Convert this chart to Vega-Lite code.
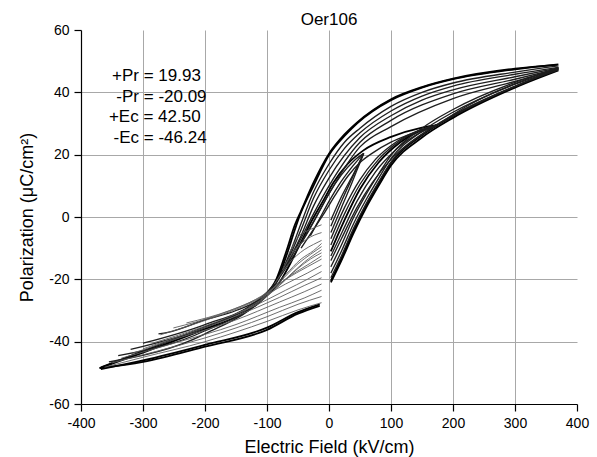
{
"$schema": "https://vega.github.io/schema/vega-lite/v6.json",
"autosize": "none",
"width": 496,
"height": 374,
"padding": {"left": 81, "top": 30, "right": 20, "bottom": 53},
"background": "white",
"config": {"view": {"stroke": null}, "font": "Liberation Sans"},
"title": {"text": "Oer106", "fontSize": 17, "fontWeight": "normal", "font": "Liberation Sans", "color": "black", "frame": "group", "offset": 5, "dy": 11},
"datasets": {
"curves": [
{"s":"MU1","k":"major","e":-370,"p":-48.5},{"s":"MU1","k":"major","e":-300,"p":-43.5},{"s":"MU1","k":"major","e":-200,"p":-36},{"s":"MU1","k":"major","e":-150,"p":-32},{"s":"MU1","k":"major","e":-110,"p":-27},{"s":"MU1","k":"major","e":-85,"p":-21},{"s":"MU1","k":"major","e":-68,"p":-12},{"s":"MU1","k":"major","e":-55,"p":-4},{"s":"MU1","k":"major","e":-48,"p":0},{"s":"MU1","k":"major","e":-25,"p":10},{"s":"MU1","k":"major","e":0,"p":19.9},{"s":"MU1","k":"major","e":25,"p":26},{"s":"MU1","k":"major","e":45,"p":30},{"s":"MU1","k":"major","e":100,"p":37.5},{"s":"MU1","k":"major","e":150,"p":41.5},{"s":"MU1","k":"major","e":200,"p":44.2},{"s":"MU1","k":"major","e":300,"p":47.4},{"s":"MU1","k":"major","e":370,"p":49},
{"s":"MU2","k":"major","e":-368,"p":-48.3},{"s":"MU2","k":"major","e":-300,"p":-43},{"s":"MU2","k":"major","e":-200,"p":-35.3},{"s":"MU2","k":"major","e":-150,"p":-31.3},{"s":"MU2","k":"major","e":-110,"p":-26.3},{"s":"MU2","k":"major","e":-85,"p":-20},{"s":"MU2","k":"major","e":-68,"p":-10.5},{"s":"MU2","k":"major","e":-55,"p":-2.5},{"s":"MU2","k":"major","e":-45,"p":2},{"s":"MU2","k":"major","e":-25,"p":11},{"s":"MU2","k":"major","e":0,"p":20.3},{"s":"MU2","k":"major","e":25,"p":26.5},{"s":"MU2","k":"major","e":45,"p":30.3},{"s":"MU2","k":"major","e":100,"p":37.8},{"s":"MU2","k":"major","e":150,"p":41.7},{"s":"MU2","k":"major","e":200,"p":44.4},{"s":"MU2","k":"major","e":300,"p":47.6},{"s":"MU2","k":"major","e":368,"p":48.8},
{"s":"MLL1","k":"major","e":-370,"p":-48.5},{"s":"MLL1","k":"major","e":-300,"p":-46.5},{"s":"MLL1","k":"major","e":-200,"p":-41.6},{"s":"MLL1","k":"major","e":-100,"p":-36.2},{"s":"MLL1","k":"major","e":-50,"p":-31},{"s":"MLL1","k":"major","e":-15,"p":-28.5},
{"s":"MLL2","k":"major","e":-368,"p":-48.8},{"s":"MLL2","k":"major","e":-300,"p":-46},{"s":"MLL2","k":"major","e":-200,"p":-41},{"s":"MLL2","k":"major","e":-100,"p":-35.5},{"s":"MLL2","k":"major","e":-50,"p":-30.5},{"s":"MLL2","k":"major","e":-15,"p":-28},
{"s":"MLR1","k":"major","e":3,"p":-21},{"s":"MLR1","k":"major","e":20,"p":-14},{"s":"MLR1","k":"major","e":40,"p":-5},{"s":"MLR1","k":"major","e":60,"p":3},{"s":"MLR1","k":"major","e":80,"p":10},{"s":"MLR1","k":"major","e":100,"p":16.5},{"s":"MLR1","k":"major","e":150,"p":25.5},{"s":"MLR1","k":"major","e":200,"p":31.8},{"s":"MLR1","k":"major","e":300,"p":41.5},{"s":"MLR1","k":"major","e":370,"p":47},
{"s":"MLR2","k":"major","e":3,"p":-20.5},{"s":"MLR2","k":"major","e":20,"p":-13.3},{"s":"MLR2","k":"major","e":40,"p":-4.2},{"s":"MLR2","k":"major","e":60,"p":3.8},{"s":"MLR2","k":"major","e":80,"p":10.8},{"s":"MLR2","k":"major","e":100,"p":17.3},{"s":"MLR2","k":"major","e":150,"p":26.2},{"s":"MLR2","k":"major","e":200,"p":32.4},{"s":"MLR2","k":"major","e":300,"p":41.8},{"s":"MLR2","k":"major","e":368,"p":47.2},
{"s":"UI1","k":"major","e":-110,"p":-26},{"s":"UI1","k":"major","e":-80,"p":-21},{"s":"UI1","k":"major","e":-60,"p":-14},{"s":"UI1","k":"major","e":-45,"p":-8},{"s":"UI1","k":"major","e":-30,"p":-2},{"s":"UI1","k":"major","e":-10,"p":5},{"s":"UI1","k":"major","e":7,"p":11},{"s":"UI1","k":"major","e":30,"p":17},{"s":"UI1","k":"major","e":55,"p":21.3},{"s":"UI1","k":"major","e":100,"p":25.7},{"s":"UI1","k":"major","e":150,"p":28.7},{"s":"UI1","k":"major","e":174,"p":29.5},
{"s":"LI2","k":"major","e":3,"p":-11},{"s":"LI2","k":"major","e":25,"p":-1},{"s":"LI2","k":"major","e":50,"p":9},{"s":"LI2","k":"major","e":80,"p":17.5},{"s":"LI2","k":"major","e":115,"p":24},{"s":"LI2","k":"major","e":174,"p":29.5},
{"s":"U1","k":"line","e":-275,"p":-37.5},{"s":"U1","k":"line","e":-260,"p":-37},{"s":"U1","k":"line","e":-200,"p":-33},{"s":"U1","k":"line","e":-150,"p":-30},{"s":"U1","k":"line","e":-110,"p":-26},{"s":"U1","k":"line","e":-80,"p":-19},{"s":"U1","k":"line","e":-60,"p":-10},{"s":"U1","k":"line","e":-45,"p":-2},{"s":"U1","k":"line","e":-25,"p":8},{"s":"U1","k":"line","e":0,"p":17},{"s":"U1","k":"line","e":25,"p":24},{"s":"U1","k":"line","e":50,"p":28.5},{"s":"U1","k":"line","e":100,"p":35.5},{"s":"U1","k":"line","e":150,"p":40},{"s":"U1","k":"line","e":200,"p":43},{"s":"U1","k":"line","e":300,"p":46.5},{"s":"U1","k":"line","e":370,"p":48.5},
{"s":"U2","k":"line","e":-300,"p":-40.5},{"s":"U2","k":"line","e":-200,"p":-34.5},{"s":"U2","k":"line","e":-120,"p":-27.5},{"s":"U2","k":"line","e":-85,"p":-21},{"s":"U2","k":"line","e":-62,"p":-12},{"s":"U2","k":"line","e":-45,"p":-4},{"s":"U2","k":"line","e":-25,"p":6},{"s":"U2","k":"line","e":0,"p":15},{"s":"U2","k":"line","e":25,"p":22},{"s":"U2","k":"line","e":50,"p":27},{"s":"U2","k":"line","e":100,"p":34},{"s":"U2","k":"line","e":150,"p":38.8},{"s":"U2","k":"line","e":200,"p":42},{"s":"U2","k":"line","e":300,"p":45.8},{"s":"U2","k":"line","e":370,"p":48},
{"s":"U3","k":"line","e":-320,"p":-42.5},{"s":"U3","k":"line","e":-200,"p":-35.5},{"s":"U3","k":"line","e":-130,"p":-29},{"s":"U3","k":"line","e":-90,"p":-22.5},{"s":"U3","k":"line","e":-65,"p":-14},{"s":"U3","k":"line","e":-45,"p":-6},{"s":"U3","k":"line","e":-25,"p":3.5},{"s":"U3","k":"line","e":0,"p":12.5},{"s":"U3","k":"line","e":50,"p":25.5},{"s":"U3","k":"line","e":100,"p":32.5},{"s":"U3","k":"line","e":150,"p":37.5},{"s":"U3","k":"line","e":200,"p":40.8},{"s":"U3","k":"line","e":300,"p":45},{"s":"U3","k":"line","e":370,"p":47.8},
{"s":"U4","k":"line","e":-340,"p":-44.5},{"s":"U4","k":"line","e":-200,"p":-36.5},{"s":"U4","k":"line","e":-95,"p":-23.5},{"s":"U4","k":"line","e":-70,"p":-16},{"s":"U4","k":"line","e":-48,"p":-8},{"s":"U4","k":"line","e":-25,"p":1},{"s":"U4","k":"line","e":0,"p":10},{"s":"U4","k":"line","e":50,"p":24},{"s":"U4","k":"line","e":100,"p":31},{"s":"U4","k":"line","e":200,"p":39.5},{"s":"U4","k":"line","e":300,"p":44.2},{"s":"U4","k":"line","e":370,"p":47.6},
{"s":"U5","k":"line","e":-355,"p":-46.5},{"s":"U5","k":"line","e":-200,"p":-37.5},{"s":"U5","k":"line","e":-100,"p":-24.5},{"s":"U5","k":"line","e":-75,"p":-18},{"s":"U5","k":"line","e":-50,"p":-10},{"s":"U5","k":"line","e":-25,"p":-1.5},{"s":"U5","k":"line","e":0,"p":7.5},{"s":"U5","k":"line","e":50,"p":22.5},{"s":"U5","k":"line","e":100,"p":29},{"s":"U5","k":"line","e":200,"p":38},{"s":"U5","k":"line","e":300,"p":43.5},{"s":"U5","k":"line","e":370,"p":47.4},
{"s":"UI2","k":"line","e":-45,"p":-10},{"s":"UI2","k":"line","e":-25,"p":-4},{"s":"UI2","k":"line","e":-10,"p":0.5},{"s":"UI2","k":"line","e":10,"p":7},{"s":"UI2","k":"line","e":30,"p":13},{"s":"UI2","k":"line","e":50,"p":17.5},{"s":"UI2","k":"line","e":70,"p":20.5},{"s":"UI2","k":"line","e":100,"p":24},{"s":"UI2","k":"line","e":130,"p":26.5},{"s":"UI2","k":"line","e":174,"p":29.5},
{"s":"US1","k":"line","e":-45,"p":-8.5},{"s":"US1","k":"line","e":-30,"p":-3.5},{"s":"US1","k":"line","e":-15,"p":2},{"s":"US1","k":"line","e":0,"p":7.5},{"s":"US1","k":"line","e":20,"p":13.5},{"s":"US1","k":"line","e":40,"p":18},{"s":"US1","k":"line","e":56,"p":20.4},
{"s":"US2","k":"line","e":-30,"p":-6},{"s":"US2","k":"line","e":-15,"p":-0.5},{"s":"US2","k":"line","e":0,"p":5},{"s":"US2","k":"line","e":15,"p":10},{"s":"US2","k":"line","e":35,"p":15.5},{"s":"US2","k":"line","e":56,"p":20.4},
{"s":"L1","k":"line","e":3,"p":-19.5},{"s":"L1","k":"line","e":20,"p":-12.5},{"s":"L1","k":"line","e":40,"p":-3.5},{"s":"L1","k":"line","e":60,"p":4.3},{"s":"L1","k":"line","e":80,"p":11.2},{"s":"L1","k":"line","e":100,"p":17.6},{"s":"L1","k":"line","e":150,"p":26.5},{"s":"L1","k":"line","e":200,"p":32.7},{"s":"L1","k":"line","e":300,"p":42},{"s":"L1","k":"line","e":370,"p":47.2},
{"s":"L2","k":"line","e":3,"p":-18},{"s":"L2","k":"line","e":20,"p":-11},{"s":"L2","k":"line","e":40,"p":-2},{"s":"L2","k":"line","e":60,"p":5.6},{"s":"L2","k":"line","e":80,"p":12.4},{"s":"L2","k":"line","e":100,"p":18.7},{"s":"L2","k":"line","e":150,"p":27.5},{"s":"L2","k":"line","e":200,"p":33.6},{"s":"L2","k":"line","e":300,"p":42.6},{"s":"L2","k":"line","e":370,"p":47.4},
{"s":"L3","k":"line","e":3,"p":-16},{"s":"L3","k":"line","e":20,"p":-9},{"s":"L3","k":"line","e":40,"p":0},{"s":"L3","k":"line","e":60,"p":7.3},{"s":"L3","k":"line","e":80,"p":13.8},{"s":"L3","k":"line","e":100,"p":19.8},{"s":"L3","k":"line","e":150,"p":28.5},{"s":"L3","k":"line","e":200,"p":34.5},{"s":"L3","k":"line","e":300,"p":43.2},{"s":"L3","k":"line","e":370,"p":47.6},
{"s":"L4","k":"line","e":174,"p":29.5},{"s":"L4","k":"line","e":220,"p":34.5},{"s":"L4","k":"line","e":270,"p":39.3},{"s":"L4","k":"line","e":320,"p":43.5},{"s":"L4","k":"line","e":370,"p":47.8},
{"s":"L5","k":"line","e":174,"p":29.5},{"s":"L5","k":"line","e":220,"p":35.3},{"s":"L5","k":"line","e":270,"p":40.3},{"s":"L5","k":"line","e":320,"p":44.3},{"s":"L5","k":"line","e":370,"p":48},
{"s":"LI1","k":"line","e":3,"p":-14},{"s":"LI1","k":"line","e":20,"p":-7},{"s":"LI1","k":"line","e":45,"p":3},{"s":"LI1","k":"line","e":70,"p":11},{"s":"LI1","k":"line","e":100,"p":18.5},{"s":"LI1","k":"line","e":130,"p":23.8},{"s":"LI1","k":"line","e":174,"p":29.5},
{"s":"LI3","k":"line","e":3,"p":-9},{"s":"LI3","k":"line","e":25,"p":1},{"s":"LI3","k":"line","e":50,"p":10.5},{"s":"LI3","k":"line","e":80,"p":18.5},{"s":"LI3","k":"line","e":115,"p":24.5},{"s":"LI3","k":"line","e":174,"p":29.5},
{"s":"LI4","k":"line","e":3,"p":-7},{"s":"LI4","k":"line","e":25,"p":3},{"s":"LI4","k":"line","e":50,"p":12},{"s":"LI4","k":"line","e":75,"p":18.5},{"s":"LI4","k":"line","e":110,"p":24.3},{"s":"LI4","k":"line","e":174,"p":29.5},
{"s":"LI5","k":"line","e":3,"p":-12.5},{"s":"LI5","k":"line","e":22,"p":-4.5},{"s":"LI5","k":"line","e":45,"p":5},{"s":"LI5","k":"line","e":75,"p":14.5},{"s":"LI5","k":"line","e":110,"p":22},{"s":"LI5","k":"line","e":174,"p":29.5},
{"s":"LS1","k":"line","e":3,"p":-5},{"s":"LS1","k":"line","e":20,"p":3},{"s":"LS1","k":"line","e":35,"p":10},{"s":"LS1","k":"line","e":45,"p":15},{"s":"LS1","k":"line","e":56,"p":20.4},
{"s":"LS2","k":"line","e":3,"p":-3},{"s":"LS2","k":"line","e":20,"p":5},{"s":"LS2","k":"line","e":35,"p":11.5},{"s":"LS2","k":"line","e":56,"p":20.4},
{"s":"LS3","k":"line","e":3,"p":-1},{"s":"LS3","k":"line","e":20,"p":6.5},{"s":"LS3","k":"line","e":40,"p":14},{"s":"LS3","k":"line","e":56,"p":20.4},
{"s":"LL1","k":"hatch","e":-362,"p":-48.2},{"s":"LL1","k":"hatch","e":-300,"p":-45},{"s":"LL1","k":"hatch","e":-200,"p":-40},{"s":"LL1","k":"hatch","e":-100,"p":-33.5},{"s":"LL1","k":"hatch","e":-50,"p":-29.8},{"s":"LL1","k":"hatch","e":-12,"p":-27.5},
{"s":"LL2","k":"hatch","e":-350,"p":-46.8},{"s":"LL2","k":"hatch","e":-280,"p":-43.2},{"s":"LL2","k":"hatch","e":-200,"p":-38.8},{"s":"LL2","k":"hatch","e":-100,"p":-32},{"s":"LL2","k":"hatch","e":-50,"p":-28},{"s":"LL2","k":"hatch","e":-12,"p":-25.5},
{"s":"LL3","k":"hatch","e":-335,"p":-45.3},{"s":"LL3","k":"hatch","e":-250,"p":-40.5},{"s":"LL3","k":"hatch","e":-150,"p":-34.5},{"s":"LL3","k":"hatch","e":-80,"p":-29},{"s":"LL3","k":"hatch","e":-40,"p":-26},{"s":"LL3","k":"hatch","e":-12,"p":-23.5},
{"s":"LL4","k":"hatch","e":-318,"p":-43.8},{"s":"LL4","k":"hatch","e":-250,"p":-39.3},{"s":"LL4","k":"hatch","e":-150,"p":-33},{"s":"LL4","k":"hatch","e":-80,"p":-27.3},{"s":"LL4","k":"hatch","e":-40,"p":-24},{"s":"LL4","k":"hatch","e":-12,"p":-21.5},
{"s":"LL5","k":"hatch","e":-300,"p":-42.3},{"s":"LL5","k":"hatch","e":-230,"p":-37.5},{"s":"LL5","k":"hatch","e":-150,"p":-31.8},{"s":"LL5","k":"hatch","e":-80,"p":-25.8},{"s":"LL5","k":"hatch","e":-40,"p":-22},{"s":"LL5","k":"hatch","e":-12,"p":-19.5},
{"s":"LL6","k":"hatch","e":-285,"p":-40.5},{"s":"LL6","k":"hatch","e":-200,"p":-35},{"s":"LL6","k":"hatch","e":-120,"p":-28.5},{"s":"LL6","k":"hatch","e":-70,"p":-23.5},{"s":"LL6","k":"hatch","e":-35,"p":-20},{"s":"LL6","k":"hatch","e":-12,"p":-17.5},
{"s":"LL7","k":"hatch","e":-272,"p":-37.8},{"s":"LL7","k":"hatch","e":-200,"p":-33.2},{"s":"LL7","k":"hatch","e":-120,"p":-27},{"s":"LL7","k":"hatch","e":-70,"p":-21.5},{"s":"LL7","k":"hatch","e":-35,"p":-18},{"s":"LL7","k":"hatch","e":-12,"p":-15.5},
{"s":"LL8","k":"hatch","e":-251,"p":-35.6},{"s":"LL8","k":"hatch","e":-180,"p":-31.5},{"s":"LL8","k":"hatch","e":-110,"p":-25.5},{"s":"LL8","k":"hatch","e":-70,"p":-20},{"s":"LL8","k":"hatch","e":-35,"p":-16},{"s":"LL8","k":"hatch","e":-12,"p":-13.5},
{"s":"LLa","k":"hatch","e":-230,"p":-34},{"s":"LLa","k":"hatch","e":-160,"p":-30},{"s":"LLa","k":"hatch","e":-100,"p":-24.5},{"s":"LLa","k":"hatch","e":-60,"p":-18.5},{"s":"LLa","k":"hatch","e":-30,"p":-14.8},{"s":"LLa","k":"hatch","e":-12,"p":-12.5},
{"s":"LL9","k":"hatch","e":-150,"p":-31},{"s":"LL9","k":"hatch","e":-110,"p":-27},{"s":"LL9","k":"hatch","e":-80,"p":-22},{"s":"LL9","k":"hatch","e":-50,"p":-16.5},{"s":"LL9","k":"hatch","e":-30,"p":-13.5},{"s":"LL9","k":"hatch","e":-12,"p":-11.5},
{"s":"LLb","k":"hatch","e":-130,"p":-29},{"s":"LLb","k":"hatch","e":-95,"p":-24.5},{"s":"LLb","k":"hatch","e":-65,"p":-19},{"s":"LLb","k":"hatch","e":-40,"p":-14.5},{"s":"LLb","k":"hatch","e":-12,"p":-10.5},
{"s":"LL10","k":"hatch","e":-110,"p":-26.5},{"s":"LL10","k":"hatch","e":-80,"p":-21},{"s":"LL10","k":"hatch","e":-50,"p":-15},{"s":"LL10","k":"hatch","e":-30,"p":-12},{"s":"LL10","k":"hatch","e":-12,"p":-9.5},
{"s":"LLc","k":"hatch","e":-100,"p":-25},{"s":"LLc","k":"hatch","e":-70,"p":-18.5},{"s":"LLc","k":"hatch","e":-45,"p":-13.5},{"s":"LLc","k":"hatch","e":-25,"p":-10.8},{"s":"LLc","k":"hatch","e":-12,"p":-8.5},
{"s":"LL11","k":"hatch","e":-88,"p":-21.5},{"s":"LL11","k":"hatch","e":-65,"p":-15},{"s":"LL11","k":"hatch","e":-40,"p":-10.5},{"s":"LL11","k":"hatch","e":-25,"p":-8.8},{"s":"LL11","k":"hatch","e":-12,"p":-7.5},
{"s":"LL12","k":"hatch","e":-75,"p":-17},{"s":"LL12","k":"hatch","e":-55,"p":-10.5},{"s":"LL12","k":"hatch","e":-35,"p":-7},{"s":"LL12","k":"hatch","e":-12,"p":-5},
{"s":"LL13","k":"hatch","e":-65,"p":-12},{"s":"LL13","k":"hatch","e":-50,"p":-6.5},{"s":"LL13","k":"hatch","e":-30,"p":-4},{"s":"LL13","k":"hatch","e":-12,"p":-2.5}
],
"notes": [
{"label":"+Pr = 19.93","e":-350,"p":43.6},
{"label":"-Pr = -20.09","e":-343,"p":37},
{"label":"+Ec = 42.50","e":-355,"p":30.5},
{"label":"-Ec = -46.24","e":-347.5,"p":23.8}
]
},
"layer": [
{
"data": {"name": "curves"},
"mark": {"type": "line", "interpolate": "monotone", "clip": true},
"encoding": {
"x": {"field": "e", "type": "quantitative",
 "scale": {"domain": [-400, 400], "nice": false, "zero": false},
 "axis": {
  "title": "Electric Field (kV/cm)", "titleFontSize": 18, "titleFontWeight": "normal", "titleColor": "black", "titleFont": "Liberation Sans", "titlePadding": 8,
  "values": [-400,-350,-300,-250,-200,-150,-100,-50,0,50,100,150,200,250,300,350,400],
  "labelExpr": "datum.value % 100 === 0 ? '' + datum.value : ''",
  "labelFontSize": 14, "labelColor": "black", "labelFont": "Liberation Sans", "labelPadding": 5, "labelFlush": false, "labelOverlap": false,
  "domainColor": "black", "domainWidth": 1.2,
  "tickColor": "black", "tickWidth": 1.2,
  "tickSize": {"condition": {"test": "datum.value % 100 === 0", "value": 7}, "value": 4},
  "grid": true,
  "gridColor": {"condition": {"test": "datum.value % 100 === 0", "value": "#a8a8a8"}, "value": "#e6e6e6"},
  "gridOpacity": {"condition": {"test": "abs(datum.value) === 400", "value": 0}, "value": 1},
  "gridWidth": 1
 }},
"y": {"field": "p", "type": "quantitative",
 "scale": {"domain": [-60, 60], "nice": false, "zero": false},
 "axis": {
  "title": "Polarization (μC/cm²)", "titleFontSize": 18, "titleFontWeight": "normal", "titleColor": "black", "titleFont": "Liberation Sans", "titlePadding": 12,
  "values": [-60,-55,-50,-45,-40,-35,-30,-25,-20,-15,-10,-5,0,5,10,15,20,25,30,35,40,45,50,55,60],
  "labelExpr": "datum.value % 10 === 0 ? '' + datum.value : ''",
  "labelFontSize": 14, "labelColor": "black", "labelFont": "Liberation Sans", "labelPadding": 5, "labelFlush": false, "labelOverlap": false,
  "domainColor": "black", "domainWidth": 1.2,
  "tickColor": "black", "tickWidth": 1.2,
  "tickSize": {"condition": {"test": "datum.value % 10 === 0", "value": 7}, "value": 4},
  "grid": true,
  "gridColor": {"condition": {"test": "datum.value % 10 === 0", "value": "#a8a8a8"}, "value": "#e6e6e6"},
  "gridOpacity": {"condition": {"test": "abs(datum.value) === 60", "value": 0}, "value": 1},
  "gridWidth": 1
 }},
"detail": {"field": "s", "type": "nominal"},
"color": {"field": "k", "type": "nominal", "legend": null,
 "scale": {"domain": ["major", "line", "hatch"], "range": ["#000000", "#1e1e1e", "#5e5e5e"]}},
"strokeWidth": {"field": "k", "type": "nominal", "legend": null,
 "scale": {"domain": ["major", "line", "hatch"], "range": [1.8, 0.9, 0.9]}}
}
},
{
"data": {"name": "notes"},
"mark": {"type": "text", "align": "left", "baseline": "alphabetic", "fontSize": 17, "font": "Liberation Sans", "color": "black"},
"encoding": {
"x": {"field": "e", "type": "quantitative"},
"y": {"field": "p", "type": "quantitative"},
"text": {"field": "label", "type": "nominal"}
}
}
]
}
